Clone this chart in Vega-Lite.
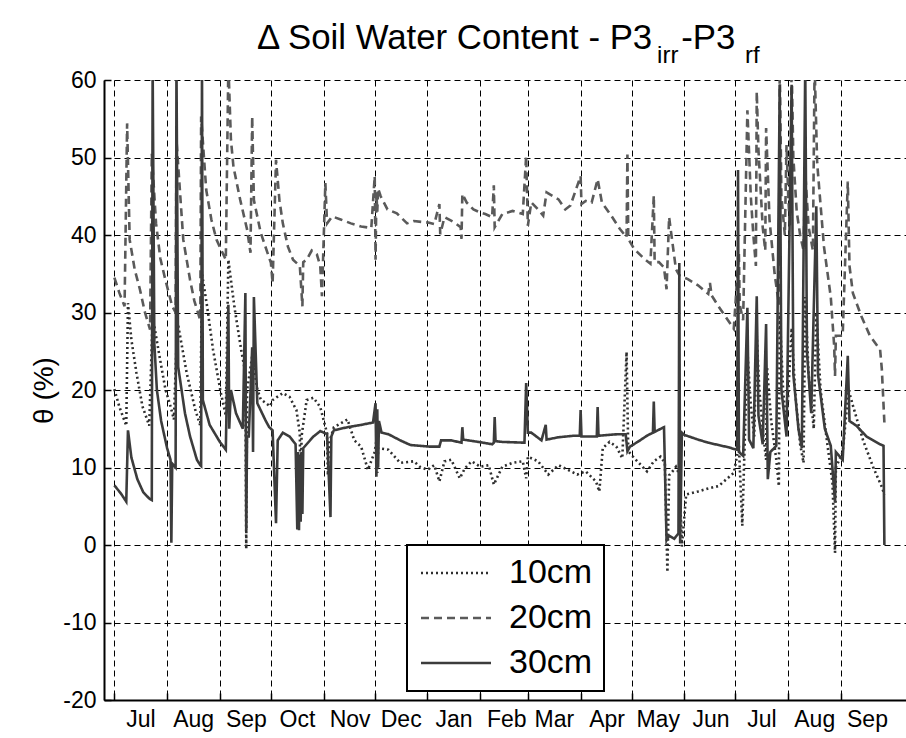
{
"$schema": "https://vega.github.io/schema/vega-lite/v6.json",
"width": 802, "height": 620,
"autosize": {"type": "none"},
"padding": {"left": 104, "top": 80, "right": 0, "bottom": 38},
"background": "white",
"title": {
 "text": "Δ Soil Water Content - P3\u00a0\u00a0\u00a0-P3",
 "subtitle": "\u200b\u00a0\u00a0\u00a0\u00a0\u00a0\u00a0\u00a0\u00a0\u00a0\u00a0\u00a0\u00a0\u00a0\u00a0\u00a0\u00a0\u00a0\u00a0\u00a0\u00a0\u00a0\u00a0\u00a0\u00a0\u00a0\u00a0\u00a0\u00a0\u00a0\u00a0\u00a0\u00a0\u00a0\u00a0\u00a0\u00a0\u00a0\u00a0\u00a0\u00a0\u00a0\u00a0\u00a0\u00a0\u00a0\u00a0\u00a0\u00a0\u00a0\u00a0\u00a0\u00a0\u00a0\u00a0\u00a0\u00a0\u00a0\u00a0\u00a0\u00a0irr\u00a0\u00a0\u00a0\u00a0\u00a0\u00a0\u00a0\u00a0\u00a0\u00a0rf",
 "anchor": "start", "frame": "group", "dx": 153,
 "font": "Liberation Sans", "fontSize": 34.8, "fontWeight": "normal", "color": "black",
 "subtitleFont": "Liberation Sans", "subtitleFontSize": 24, "subtitleColor": "black",
 "subtitlePadding": -13, "offset": 0
},
"data": {"values": [
{"date":"2006-07-01","theta":20.1,"depth":"10cm"},
{"date":"2006-07-04","theta":17.8,"depth":"10cm"},
{"date":"2006-07-08","theta":15.4,"depth":"10cm"},
{"date":"2006-07-09","theta":31.2,"depth":"10cm"},
{"date":"2006-07-11","theta":26.5,"depth":"10cm"},
{"date":"2006-07-14","theta":22.2,"depth":"10cm"},
{"date":"2006-07-17T12:00Z","theta":17.9,"depth":"10cm"},
{"date":"2006-07-21T12:00Z","theta":15.4,"depth":"10cm"},
{"date":"2006-07-23T12:00Z","theta":29.5,"depth":"10cm"},
{"date":"2006-07-27T12:00Z","theta":24.4,"depth":"10cm"},
{"date":"2006-07-31","theta":20.1,"depth":"10cm"},
{"date":"2006-08-03","theta":17.9,"depth":"10cm"},
{"date":"2006-08-05","theta":16.2,"depth":"10cm"},
{"date":"2006-08-07","theta":29,"depth":"10cm"},
{"date":"2006-08-12T12:00Z","theta":22.2,"depth":"10cm"},
{"date":"2006-08-17T12:00Z","theta":17.5,"depth":"10cm"},
{"date":"2006-08-20T12:00Z","theta":15.4,"depth":"10cm"},
{"date":"2006-08-21T12:00Z","theta":35,"depth":"10cm"},
{"date":"2006-08-24T12:00Z","theta":30.8,"depth":"10cm"},
{"date":"2006-08-28","theta":25.2,"depth":"10cm"},
{"date":"2006-09-01T12:00Z","theta":19.7,"depth":"10cm"},
{"date":"2006-09-04T12:00Z","theta":16.7,"depth":"10cm"},
{"date":"2006-09-06","theta":36.8,"depth":"10cm"},
{"date":"2006-09-09T12:00Z","theta":30.8,"depth":"10cm"},
{"date":"2006-09-13T12:00Z","theta":25.2,"depth":"10cm"},
{"date":"2006-09-16","theta":22.2,"depth":"10cm"},
{"date":"2006-09-16T12:00Z","theta":-0.5,"depth":"10cm"},
{"date":"2006-09-17","theta":20,"depth":"10cm"},
{"date":"2006-09-20","theta":24.4,"depth":"10cm"},
{"date":"2006-09-23","theta":20.1,"depth":"10cm"},
{"date":"2006-09-25","theta":18.8,"depth":"10cm"},
{"date":"2006-09-30T12:00Z","theta":17.9,"depth":"10cm"},
{"date":"2006-10-02","theta":18.7,"depth":"10cm"},
{"date":"2006-10-08","theta":19.6,"depth":"10cm"},
{"date":"2006-10-12","theta":19.1,"depth":"10cm"},
{"date":"2006-10-16","theta":17.4,"depth":"10cm"},
{"date":"2006-10-18","theta":14.4,"depth":"10cm"},
{"date":"2006-10-18T12:00Z","theta":3.6,"depth":"10cm"},
{"date":"2006-10-19","theta":14,"depth":"10cm"},
{"date":"2006-10-22","theta":18.7,"depth":"10cm"},
{"date":"2006-10-26","theta":19,"depth":"10cm"},
{"date":"2006-10-30","theta":17.8,"depth":"10cm"},
{"date":"2006-11-03","theta":14.4,"depth":"10cm"},
{"date":"2006-11-03T12:00Z","theta":9,"depth":"10cm"},
{"date":"2006-11-04","theta":13,"depth":"10cm"},
{"date":"2006-11-07","theta":15.2,"depth":"10cm"},
{"date":"2006-11-15","theta":16.2,"depth":"10cm"},
{"date":"2006-11-19","theta":13.5,"depth":"10cm"},
{"date":"2006-11-23","theta":12.7,"depth":"10cm"},
{"date":"2006-11-27","theta":9.7,"depth":"10cm"},
{"date":"2006-12-01","theta":12,"depth":"10cm"},
{"date":"2006-12-02","theta":13.5,"depth":"10cm"},
{"date":"2006-12-02T12:00Z","theta":9.3,"depth":"10cm"},
{"date":"2006-12-03","theta":12.5,"depth":"10cm"},
{"date":"2006-12-09","theta":12.3,"depth":"10cm"},
{"date":"2006-12-16","theta":10.6,"depth":"10cm"},
{"date":"2006-12-24","theta":10.8,"depth":"10cm"},
{"date":"2006-12-27T12:00Z","theta":10.1,"depth":"10cm"},
{"date":"2007-01-01","theta":9.7,"depth":"10cm"},
{"date":"2007-01-05","theta":10.3,"depth":"10cm"},
{"date":"2007-01-08","theta":8.2,"depth":"10cm"},
{"date":"2007-01-11","theta":10.8,"depth":"10cm"},
{"date":"2007-01-15","theta":11,"depth":"10cm"},
{"date":"2007-01-20","theta":8.6,"depth":"10cm"},
{"date":"2007-01-23","theta":9.9,"depth":"10cm"},
{"date":"2007-01-27","theta":10.8,"depth":"10cm"},
{"date":"2007-02-01","theta":10.1,"depth":"10cm"},
{"date":"2007-02-06","theta":10.3,"depth":"10cm"},
{"date":"2007-02-09","theta":7.8,"depth":"10cm"},
{"date":"2007-02-14","theta":10.1,"depth":"10cm"},
{"date":"2007-02-20","theta":10.6,"depth":"10cm"},
{"date":"2007-02-26","theta":10.8,"depth":"10cm"},
{"date":"2007-02-28","theta":8.6,"depth":"10cm"},
{"date":"2007-03-01","theta":11.4,"depth":"10cm"},
{"date":"2007-03-07","theta":10.8,"depth":"10cm"},
{"date":"2007-03-13","theta":9.1,"depth":"10cm"},
{"date":"2007-03-19","theta":10.3,"depth":"10cm"},
{"date":"2007-03-24T12:00Z","theta":9.7,"depth":"10cm"},
{"date":"2007-03-30","theta":9.1,"depth":"10cm"},
{"date":"2007-04-04","theta":9.5,"depth":"10cm"},
{"date":"2007-04-10","theta":8.2,"depth":"10cm"},
{"date":"2007-04-12","theta":6.9,"depth":"10cm"},
{"date":"2007-04-14","theta":12.5,"depth":"10cm"},
{"date":"2007-04-18","theta":13.3,"depth":"10cm"},
{"date":"2007-04-22","theta":12.7,"depth":"10cm"},
{"date":"2007-04-25T12:00Z","theta":11.2,"depth":"10cm"},
{"date":"2007-04-28","theta":24.9,"depth":"10cm"},
{"date":"2007-04-29","theta":12.1,"depth":"10cm"},
{"date":"2007-05-02T12:00Z","theta":11.2,"depth":"10cm"},
{"date":"2007-05-06T12:00Z","theta":10.3,"depth":"10cm"},
{"date":"2007-05-10","theta":9.5,"depth":"10cm"},
{"date":"2007-05-14","theta":10.8,"depth":"10cm"},
{"date":"2007-05-18","theta":11.4,"depth":"10cm"},
{"date":"2007-05-20T12:00Z","theta":10.6,"depth":"10cm"},
{"date":"2007-05-22","theta":-3.5,"depth":"10cm"},
{"date":"2007-05-23","theta":9,"depth":"10cm"},
{"date":"2007-05-25","theta":9.5,"depth":"10cm"},
{"date":"2007-05-27","theta":10.1,"depth":"10cm"},
{"date":"2007-05-29","theta":9.1,"depth":"10cm"},
{"date":"2007-05-30T12:00Z","theta":-0.2,"depth":"10cm"},
{"date":"2007-06-02","theta":6.5,"depth":"10cm"},
{"date":"2007-06-09","theta":6.9,"depth":"10cm"},
{"date":"2007-06-15","theta":7.3,"depth":"10cm"},
{"date":"2007-06-21","theta":7.6,"depth":"10cm"},
{"date":"2007-06-30","theta":9.3,"depth":"10cm"},
{"date":"2007-07-03","theta":12.8,"depth":"10cm"},
{"date":"2007-07-05","theta":2.5,"depth":"10cm"},
{"date":"2007-07-06","theta":10,"depth":"10cm"},
{"date":"2007-07-08","theta":25,"depth":"10cm"},
{"date":"2007-07-10","theta":18,"depth":"10cm"},
{"date":"2007-07-12","theta":14,"depth":"10cm"},
{"date":"2007-07-13T12:00Z","theta":27,"depth":"10cm"},
{"date":"2007-07-15","theta":20,"depth":"10cm"},
{"date":"2007-07-17","theta":15,"depth":"10cm"},
{"date":"2007-07-19","theta":11,"depth":"10cm"},
{"date":"2007-07-19T12:00Z","theta":23,"depth":"10cm"},
{"date":"2007-07-22","theta":16,"depth":"10cm"},
{"date":"2007-07-25","theta":11,"depth":"10cm"},
{"date":"2007-07-26T12:00Z","theta":7.6,"depth":"10cm"},
{"date":"2007-07-27","theta":30,"depth":"10cm"},
{"date":"2007-07-29","theta":20,"depth":"10cm"},
{"date":"2007-07-31","theta":15,"depth":"10cm"},
{"date":"2007-08-03","theta":28,"depth":"10cm"},
{"date":"2007-08-05","theta":19.9,"depth":"10cm"},
{"date":"2007-08-08","theta":13,"depth":"10cm"},
{"date":"2007-08-10","theta":10.6,"depth":"10cm"},
{"date":"2007-08-11","theta":32,"depth":"10cm"},
{"date":"2007-08-13","theta":22,"depth":"10cm"},
{"date":"2007-08-16","theta":15,"depth":"10cm"},
{"date":"2007-08-17T12:00Z","theta":30,"depth":"10cm"},
{"date":"2007-08-20","theta":20,"depth":"10cm"},
{"date":"2007-08-24","theta":13,"depth":"10cm"},
{"date":"2007-08-27","theta":8,"depth":"10cm"},
{"date":"2007-08-28T12:00Z","theta":-1,"depth":"10cm"},
{"date":"2007-08-29","theta":10,"depth":"10cm"},
{"date":"2007-09-02","theta":12,"depth":"10cm"},
{"date":"2007-09-05T12:00Z","theta":20,"depth":"10cm"},
{"date":"2007-09-08","theta":18,"depth":"10cm"},
{"date":"2007-09-14","theta":13.5,"depth":"10cm"},
{"date":"2007-09-20","theta":10,"depth":"10cm"},
{"date":"2007-09-25","theta":7.5,"depth":"10cm"},
{"date":"2007-09-26T12:00Z","theta":6.5,"depth":"10cm"},

{"date":"2006-07-01","theta":34.5,"depth":"20cm"},
{"date":"2006-07-04","theta":32.5,"depth":"20cm"},
{"date":"2006-07-07","theta":30.8,"depth":"20cm"},
{"date":"2006-07-08T12:00Z","theta":54.4,"depth":"20cm"},
{"date":"2006-07-10","theta":39.4,"depth":"20cm"},
{"date":"2006-07-13","theta":35.5,"depth":"20cm"},
{"date":"2006-07-16","theta":33,"depth":"20cm"},
{"date":"2006-07-19","theta":30,"depth":"20cm"},
{"date":"2006-07-22","theta":27.8,"depth":"20cm"},
{"date":"2006-07-23","theta":50.5,"depth":"20cm"},
{"date":"2006-07-25T12:00Z","theta":41.5,"depth":"20cm"},
{"date":"2006-07-28","theta":37,"depth":"20cm"},
{"date":"2006-07-31","theta":34.2,"depth":"20cm"},
{"date":"2006-08-04","theta":30.8,"depth":"20cm"},
{"date":"2006-08-06","theta":30,"depth":"20cm"},
{"date":"2006-08-06T12:00Z","theta":52.3,"depth":"20cm"},
{"date":"2006-08-10T12:00Z","theta":39.4,"depth":"20cm"},
{"date":"2006-08-14T12:00Z","theta":34.2,"depth":"20cm"},
{"date":"2006-08-17","theta":31.5,"depth":"20cm"},
{"date":"2006-08-20T12:00Z","theta":29,"depth":"20cm"},
{"date":"2006-08-21","theta":55.3,"depth":"20cm"},
{"date":"2006-08-24","theta":45.8,"depth":"20cm"},
{"date":"2006-08-27","theta":42,"depth":"20cm"},
{"date":"2006-08-30","theta":39.4,"depth":"20cm"},
{"date":"2006-09-04T12:00Z","theta":36.8,"depth":"20cm"},
{"date":"2006-09-06","theta":62,"depth":"20cm"},
{"date":"2006-09-07T12:00Z","theta":52.3,"depth":"20cm"},
{"date":"2006-09-09","theta":48.8,"depth":"20cm"},
{"date":"2006-09-13","theta":44.5,"depth":"20cm"},
{"date":"2006-09-17","theta":40.7,"depth":"20cm"},
{"date":"2006-09-19","theta":37.7,"depth":"20cm"},
{"date":"2006-09-20","theta":55.3,"depth":"20cm"},
{"date":"2006-09-21","theta":44.5,"depth":"20cm"},
{"date":"2006-09-25","theta":40.3,"depth":"20cm"},
{"date":"2006-09-29","theta":37.7,"depth":"20cm"},
{"date":"2006-10-01","theta":36.4,"depth":"20cm"},
{"date":"2006-10-02","theta":33.8,"depth":"20cm"},
{"date":"2006-10-04","theta":49.7,"depth":"20cm"},
{"date":"2006-10-06","theta":44.5,"depth":"20cm"},
{"date":"2006-10-08","theta":41.5,"depth":"20cm"},
{"date":"2006-10-11","theta":38.5,"depth":"20cm"},
{"date":"2006-10-14","theta":36.8,"depth":"20cm"},
{"date":"2006-10-18","theta":36,"depth":"20cm"},
{"date":"2006-10-19T12:00Z","theta":30.8,"depth":"20cm"},
{"date":"2006-10-20","theta":36.5,"depth":"20cm"},
{"date":"2006-10-22","theta":36.8,"depth":"20cm"},
{"date":"2006-10-25","theta":38,"depth":"20cm"},
{"date":"2006-10-28","theta":37.5,"depth":"20cm"},
{"date":"2006-10-30","theta":36,"depth":"20cm"},
{"date":"2006-10-31","theta":32.1,"depth":"20cm"},
{"date":"2006-11-02","theta":46.7,"depth":"20cm"},
{"date":"2006-11-03","theta":41.5,"depth":"20cm"},
{"date":"2006-11-06","theta":42.4,"depth":"20cm"},
{"date":"2006-11-11","theta":42,"depth":"20cm"},
{"date":"2006-11-17","theta":41.5,"depth":"20cm"},
{"date":"2006-11-23","theta":41.1,"depth":"20cm"},
{"date":"2006-11-29","theta":40.9,"depth":"20cm"},
{"date":"2006-12-01","theta":47.6,"depth":"20cm"},
{"date":"2006-12-01T12:00Z","theta":36.8,"depth":"20cm"},
{"date":"2006-12-02","theta":45.5,"depth":"20cm"},
{"date":"2006-12-02T12:00Z","theta":43,"depth":"20cm"},
{"date":"2006-12-03","theta":46,"depth":"20cm"},
{"date":"2006-12-04T12:00Z","theta":45,"depth":"20cm"},
{"date":"2006-12-08T12:00Z","theta":43.3,"depth":"20cm"},
{"date":"2006-12-14","theta":42.8,"depth":"20cm"},
{"date":"2006-12-20","theta":41.5,"depth":"20cm"},
{"date":"2006-12-24","theta":41.8,"depth":"20cm"},
{"date":"2007-01-01T12:00Z","theta":41.6,"depth":"20cm"},
{"date":"2007-01-05","theta":41.4,"depth":"20cm"},
{"date":"2007-01-08","theta":44,"depth":"20cm"},
{"date":"2007-01-08T12:00Z","theta":40.1,"depth":"20cm"},
{"date":"2007-01-11","theta":42.3,"depth":"20cm"},
{"date":"2007-01-17","theta":41.6,"depth":"20cm"},
{"date":"2007-01-20T12:00Z","theta":41,"depth":"20cm"},
{"date":"2007-01-21","theta":39.5,"depth":"20cm"},
{"date":"2007-01-21T12:00Z","theta":45.3,"depth":"20cm"},
{"date":"2007-01-24","theta":44.2,"depth":"20cm"},
{"date":"2007-01-28","theta":43.3,"depth":"20cm"},
{"date":"2007-02-01","theta":42.9,"depth":"20cm"},
{"date":"2007-02-04","theta":42.7,"depth":"20cm"},
{"date":"2007-02-08","theta":42.3,"depth":"20cm"},
{"date":"2007-02-09","theta":46.4,"depth":"20cm"},
{"date":"2007-02-09T12:00Z","theta":41,"depth":"20cm"},
{"date":"2007-02-14","theta":42.7,"depth":"20cm"},
{"date":"2007-02-20","theta":43.1,"depth":"20cm"},
{"date":"2007-02-26","theta":42.7,"depth":"20cm"},
{"date":"2007-02-28","theta":50.2,"depth":"20cm"},
{"date":"2007-03-01","theta":41.2,"depth":"20cm"},
{"date":"2007-03-03","theta":44.2,"depth":"20cm"},
{"date":"2007-03-07","theta":43.3,"depth":"20cm"},
{"date":"2007-03-10","theta":42.5,"depth":"20cm"},
{"date":"2007-03-12","theta":45.5,"depth":"20cm"},
{"date":"2007-03-19","theta":44.6,"depth":"20cm"},
{"date":"2007-03-23","theta":43.3,"depth":"20cm"},
{"date":"2007-03-26","theta":43.8,"depth":"20cm"},
{"date":"2007-04-01","theta":47.6,"depth":"20cm"},
{"date":"2007-04-01T12:00Z","theta":44,"depth":"20cm"},
{"date":"2007-04-04","theta":44.4,"depth":"20cm"},
{"date":"2007-04-07T12:00Z","theta":44.2,"depth":"20cm"},
{"date":"2007-04-11","theta":47.2,"depth":"20cm"},
{"date":"2007-04-13T12:00Z","theta":44.2,"depth":"20cm"},
{"date":"2007-04-19","theta":42.5,"depth":"20cm"},
{"date":"2007-04-24","theta":40.8,"depth":"20cm"},
{"date":"2007-04-28","theta":39.7,"depth":"20cm"},
{"date":"2007-04-28T12:00Z","theta":50.4,"depth":"20cm"},
{"date":"2007-04-29","theta":39.5,"depth":"20cm"},
{"date":"2007-05-02T12:00Z","theta":38.2,"depth":"20cm"},
{"date":"2007-05-08T12:00Z","theta":36.9,"depth":"20cm"},
{"date":"2007-05-12","theta":36.3,"depth":"20cm"},
{"date":"2007-05-14","theta":45.1,"depth":"20cm"},
{"date":"2007-05-14T12:00Z","theta":36.5,"depth":"20cm"},
{"date":"2007-05-17","theta":36.5,"depth":"20cm"},
{"date":"2007-05-20","theta":35.8,"depth":"20cm"},
{"date":"2007-05-21T12:00Z","theta":33,"depth":"20cm"},
{"date":"2007-05-23","theta":42.3,"depth":"20cm"},
{"date":"2007-05-27","theta":35.6,"depth":"20cm"},
{"date":"2007-05-29","theta":34.8,"depth":"20cm"},
{"date":"2007-06-03","theta":34.3,"depth":"20cm"},
{"date":"2007-06-09","theta":33.5,"depth":"20cm"},
{"date":"2007-06-15","theta":32.4,"depth":"20cm"},
{"date":"2007-06-16","theta":33.8,"depth":"20cm"},
{"date":"2007-06-17","theta":32.2,"depth":"20cm"},
{"date":"2007-06-21","theta":30.8,"depth":"20cm"},
{"date":"2007-06-30","theta":27.9,"depth":"20cm"},
{"date":"2007-07-03","theta":37.7,"depth":"20cm"},
{"date":"2007-07-03T12:00Z","theta":31,"depth":"20cm"},
{"date":"2007-07-05T12:00Z","theta":29,"depth":"20cm"},
{"date":"2007-07-08","theta":56.1,"depth":"20cm"},
{"date":"2007-07-10","theta":45,"depth":"20cm"},
{"date":"2007-07-11T12:00Z","theta":40,"depth":"20cm"},
{"date":"2007-07-13","theta":36,"depth":"20cm"},
{"date":"2007-07-13T12:00Z","theta":58.5,"depth":"20cm"},
{"date":"2007-07-14T12:00Z","theta":51,"depth":"20cm"},
{"date":"2007-07-17","theta":41,"depth":"20cm"},
{"date":"2007-07-18T12:00Z","theta":38,"depth":"20cm"},
{"date":"2007-07-19","theta":53.8,"depth":"20cm"},
{"date":"2007-07-21","theta":42,"depth":"20cm"},
{"date":"2007-07-24","theta":35,"depth":"20cm"},
{"date":"2007-07-26T12:00Z","theta":31,"depth":"20cm"},
{"date":"2007-07-27","theta":62,"depth":"20cm"},
{"date":"2007-07-28","theta":45,"depth":"20cm"},
{"date":"2007-07-30","theta":40,"depth":"20cm"},
{"date":"2007-07-31","theta":51.6,"depth":"20cm"},
{"date":"2007-08-01","theta":45,"depth":"20cm"},
{"date":"2007-08-02","theta":41,"depth":"20cm"},
{"date":"2007-08-03","theta":62,"depth":"20cm"},
{"date":"2007-08-04","theta":50,"depth":"20cm"},
{"date":"2007-08-06","theta":43,"depth":"20cm"},
{"date":"2007-08-08","theta":40,"depth":"20cm"},
{"date":"2007-08-10","theta":38,"depth":"20cm"},
{"date":"2007-08-11","theta":48,"depth":"20cm"},
{"date":"2007-08-13","theta":41,"depth":"20cm"},
{"date":"2007-08-15T12:00Z","theta":38,"depth":"20cm"},
{"date":"2007-08-16T12:00Z","theta":62,"depth":"20cm"},
{"date":"2007-08-18","theta":49.3,"depth":"20cm"},
{"date":"2007-08-22","theta":38.5,"depth":"20cm"},
{"date":"2007-08-26","theta":32,"depth":"20cm"},
{"date":"2007-08-28","theta":25.7,"depth":"20cm"},
{"date":"2007-08-28T12:00Z","theta":21.8,"depth":"20cm"},
{"date":"2007-08-29","theta":27,"depth":"20cm"},
{"date":"2007-09-02","theta":27,"depth":"20cm"},
{"date":"2007-09-05","theta":46.9,"depth":"20cm"},
{"date":"2007-09-06","theta":36,"depth":"20cm"},
{"date":"2007-09-08","theta":32.5,"depth":"20cm"},
{"date":"2007-09-13","theta":29.5,"depth":"20cm"},
{"date":"2007-09-18","theta":27,"depth":"20cm"},
{"date":"2007-09-24","theta":25.2,"depth":"20cm"},
{"date":"2007-09-25","theta":22.7,"depth":"20cm"},
{"date":"2007-09-26T12:00Z","theta":15.8,"depth":"20cm"},

{"date":"2006-07-01","theta":7.7,"depth":"30cm"},
{"date":"2006-07-05","theta":6.6,"depth":"30cm"},
{"date":"2006-07-08","theta":5.6,"depth":"30cm"},
{"date":"2006-07-09","theta":14.8,"depth":"30cm"},
{"date":"2006-07-11","theta":11.3,"depth":"30cm"},
{"date":"2006-07-14T12:00Z","theta":8.5,"depth":"30cm"},
{"date":"2006-07-18","theta":6.8,"depth":"30cm"},
{"date":"2006-07-21T12:00Z","theta":6,"depth":"30cm"},
{"date":"2006-07-23","theta":5.8,"depth":"30cm"},
{"date":"2006-07-23T12:00Z","theta":62,"depth":"30cm"},
{"date":"2006-07-24T12:00Z","theta":26,"depth":"30cm"},
{"date":"2006-07-26","theta":20,"depth":"30cm"},
{"date":"2006-07-28T12:00Z","theta":16,"depth":"30cm"},
{"date":"2006-08-01","theta":12.5,"depth":"30cm"},
{"date":"2006-08-03","theta":11,"depth":"30cm"},
{"date":"2006-08-03T12:00Z","theta":0.3,"depth":"30cm"},
{"date":"2006-08-04","theta":10.5,"depth":"30cm"},
{"date":"2006-08-06","theta":10,"depth":"30cm"},
{"date":"2006-08-06T12:00Z","theta":62,"depth":"30cm"},
{"date":"2006-08-07T12:00Z","theta":23,"depth":"30cm"},
{"date":"2006-08-11T12:00Z","theta":17,"depth":"30cm"},
{"date":"2006-08-14T12:00Z","theta":14,"depth":"30cm"},
{"date":"2006-08-18T12:00Z","theta":11,"depth":"30cm"},
{"date":"2006-08-20T12:00Z","theta":10.3,"depth":"30cm"},
{"date":"2006-08-21","theta":10.2,"depth":"30cm"},
{"date":"2006-08-21T12:00Z","theta":62,"depth":"30cm"},
{"date":"2006-08-22","theta":18.7,"depth":"30cm"},
{"date":"2006-08-26","theta":15.5,"depth":"30cm"},
{"date":"2006-09-01","theta":13.3,"depth":"30cm"},
{"date":"2006-09-04T12:00Z","theta":12.3,"depth":"30cm"},
{"date":"2006-09-06","theta":31,"depth":"30cm"},
{"date":"2006-09-06T12:00Z","theta":15,"depth":"30cm"},
{"date":"2006-09-07T12:00Z","theta":20,"depth":"30cm"},
{"date":"2006-09-10T12:00Z","theta":17,"depth":"30cm"},
{"date":"2006-09-14T12:00Z","theta":15,"depth":"30cm"},
{"date":"2006-09-16","theta":32.5,"depth":"30cm"},
{"date":"2006-09-16T12:00Z","theta":1.9,"depth":"30cm"},
{"date":"2006-09-17","theta":14,"depth":"30cm"},
{"date":"2006-09-18","theta":14,"depth":"30cm"},
{"date":"2006-09-20","theta":25.5,"depth":"30cm"},
{"date":"2006-09-20T12:00Z","theta":12,"depth":"30cm"},
{"date":"2006-09-21","theta":32,"depth":"30cm"},
{"date":"2006-09-23","theta":18.3,"depth":"30cm"},
{"date":"2006-09-28","theta":16,"depth":"30cm"},
{"date":"2006-09-30","theta":15.2,"depth":"30cm"},
{"date":"2006-10-02","theta":14.8,"depth":"30cm"},
{"date":"2006-10-04","theta":2.8,"depth":"30cm"},
{"date":"2006-10-05","theta":13.5,"depth":"30cm"},
{"date":"2006-10-08","theta":14.5,"depth":"30cm"},
{"date":"2006-10-12","theta":14,"depth":"30cm"},
{"date":"2006-10-15T12:00Z","theta":13,"depth":"30cm"},
{"date":"2006-10-16T12:00Z","theta":2,"depth":"30cm"},
{"date":"2006-10-17","theta":12,"depth":"30cm"},
{"date":"2006-10-17T12:00Z","theta":1.9,"depth":"30cm"},
{"date":"2006-10-18","theta":11.5,"depth":"30cm"},
{"date":"2006-10-18T12:00Z","theta":3,"depth":"30cm"},
{"date":"2006-10-19","theta":12,"depth":"30cm"},
{"date":"2006-10-19T12:00Z","theta":4,"depth":"30cm"},
{"date":"2006-10-20","theta":12.5,"depth":"30cm"},
{"date":"2006-10-22","theta":13,"depth":"30cm"},
{"date":"2006-10-26","theta":14,"depth":"30cm"},
{"date":"2006-10-30","theta":14.7,"depth":"30cm"},
{"date":"2006-11-03","theta":14.3,"depth":"30cm"},
{"date":"2006-11-05","theta":3.6,"depth":"30cm"},
{"date":"2006-11-05T12:00Z","theta":14,"depth":"30cm"},
{"date":"2006-11-07","theta":14.8,"depth":"30cm"},
{"date":"2006-11-15","theta":15.2,"depth":"30cm"},
{"date":"2006-11-23","theta":15.5,"depth":"30cm"},
{"date":"2006-11-30","theta":15.8,"depth":"30cm"},
{"date":"2006-12-01T12:00Z","theta":18.3,"depth":"30cm"},
{"date":"2006-12-02","theta":8.8,"depth":"30cm"},
{"date":"2006-12-02T12:00Z","theta":17.5,"depth":"30cm"},
{"date":"2006-12-03","theta":10,"depth":"30cm"},
{"date":"2006-12-03T12:00Z","theta":16,"depth":"30cm"},
{"date":"2006-12-05","theta":14.5,"depth":"30cm"},
{"date":"2006-12-09","theta":14.3,"depth":"30cm"},
{"date":"2006-12-16","theta":13.5,"depth":"30cm"},
{"date":"2006-12-22","theta":12.9,"depth":"30cm"},
{"date":"2007-01-02","theta":12.7,"depth":"30cm"},
{"date":"2007-01-08","theta":12.7,"depth":"30cm"},
{"date":"2007-01-09","theta":13.5,"depth":"30cm"},
{"date":"2007-01-15","theta":13.5,"depth":"30cm"},
{"date":"2007-01-21","theta":13.2,"depth":"30cm"},
{"date":"2007-01-21T12:00Z","theta":15.2,"depth":"30cm"},
{"date":"2007-01-22","theta":13.6,"depth":"30cm"},
{"date":"2007-01-31","theta":13.3,"depth":"30cm"},
{"date":"2007-02-08","theta":13,"depth":"30cm"},
{"date":"2007-02-09","theta":13.2,"depth":"30cm"},
{"date":"2007-02-09T12:00Z","theta":16.5,"depth":"30cm"},
{"date":"2007-02-10","theta":13.4,"depth":"30cm"},
{"date":"2007-02-14","theta":13.3,"depth":"30cm"},
{"date":"2007-02-27","theta":13.2,"depth":"30cm"},
{"date":"2007-02-28","theta":20.9,"depth":"30cm"},
{"date":"2007-03-01","theta":14.5,"depth":"30cm"},
{"date":"2007-03-03","theta":14.5,"depth":"30cm"},
{"date":"2007-03-09","theta":13.5,"depth":"30cm"},
{"date":"2007-03-11T12:00Z","theta":15.5,"depth":"30cm"},
{"date":"2007-03-12","theta":13.6,"depth":"30cm"},
{"date":"2007-03-19","theta":13.9,"depth":"30cm"},
{"date":"2007-03-28","theta":14.1,"depth":"30cm"},
{"date":"2007-03-31T12:00Z","theta":14.1,"depth":"30cm"},
{"date":"2007-04-01","theta":17.4,"depth":"30cm"},
{"date":"2007-04-01T12:00Z","theta":14,"depth":"30cm"},
{"date":"2007-04-10T12:00Z","theta":14,"depth":"30cm"},
{"date":"2007-04-11","theta":17.8,"depth":"30cm"},
{"date":"2007-04-11T12:00Z","theta":14.1,"depth":"30cm"},
{"date":"2007-04-23","theta":14.3,"depth":"30cm"},
{"date":"2007-04-27T12:00Z","theta":14.3,"depth":"30cm"},
{"date":"2007-04-28T12:00Z","theta":12.1,"depth":"30cm"},
{"date":"2007-04-30","theta":12.7,"depth":"30cm"},
{"date":"2007-05-04T12:00Z","theta":13.3,"depth":"30cm"},
{"date":"2007-05-10","theta":14.1,"depth":"30cm"},
{"date":"2007-05-13T12:00Z","theta":14.5,"depth":"30cm"},
{"date":"2007-05-14","theta":18.5,"depth":"30cm"},
{"date":"2007-05-14T12:00Z","theta":14.6,"depth":"30cm"},
{"date":"2007-05-20","theta":15.2,"depth":"30cm"},
{"date":"2007-05-21T12:00Z","theta":0.6,"depth":"30cm"},
{"date":"2007-05-23","theta":1.2,"depth":"30cm"},
{"date":"2007-05-26","theta":0.8,"depth":"30cm"},
{"date":"2007-05-28T12:00Z","theta":1.5,"depth":"30cm"},
{"date":"2007-05-29","theta":36.4,"depth":"30cm"},
{"date":"2007-05-29T12:00Z","theta":0.2,"depth":"30cm"},
{"date":"2007-05-30T12:00Z","theta":14.5,"depth":"30cm"},
{"date":"2007-06-01","theta":14.2,"depth":"30cm"},
{"date":"2007-06-09","theta":13.6,"depth":"30cm"},
{"date":"2007-06-15","theta":13.2,"depth":"30cm"},
{"date":"2007-06-27","theta":12.6,"depth":"30cm"},
{"date":"2007-06-30","theta":12.4,"depth":"30cm"},
{"date":"2007-07-02","theta":12.3,"depth":"30cm"},
{"date":"2007-07-02T12:00Z","theta":48.4,"depth":"30cm"},
{"date":"2007-07-03","theta":12,"depth":"30cm"},
{"date":"2007-07-05T12:00Z","theta":11.5,"depth":"30cm"},
{"date":"2007-07-08","theta":30.6,"depth":"30cm"},
{"date":"2007-07-09","theta":13.6,"depth":"30cm"},
{"date":"2007-07-11T12:00Z","theta":12.5,"depth":"30cm"},
{"date":"2007-07-13T12:00Z","theta":32.1,"depth":"30cm"},
{"date":"2007-07-14T12:00Z","theta":16.7,"depth":"30cm"},
{"date":"2007-07-17","theta":13,"depth":"30cm"},
{"date":"2007-07-19","theta":28.5,"depth":"30cm"},
{"date":"2007-07-20","theta":8.5,"depth":"30cm"},
{"date":"2007-07-21T12:00Z","theta":12,"depth":"30cm"},
{"date":"2007-07-25","theta":12.8,"depth":"30cm"},
{"date":"2007-07-27","theta":59.4,"depth":"30cm"},
{"date":"2007-07-28","theta":20,"depth":"30cm"},
{"date":"2007-07-31","theta":14,"depth":"30cm"},
{"date":"2007-08-03","theta":59.4,"depth":"30cm"},
{"date":"2007-08-04","theta":22,"depth":"30cm"},
{"date":"2007-08-07","theta":15,"depth":"30cm"},
{"date":"2007-08-09","theta":12.5,"depth":"30cm"},
{"date":"2007-08-11","theta":62,"depth":"30cm"},
{"date":"2007-08-12","theta":25,"depth":"30cm"},
{"date":"2007-08-14T12:00Z","theta":17,"depth":"30cm"},
{"date":"2007-08-17T12:00Z","theta":43.7,"depth":"30cm"},
{"date":"2007-08-18T12:00Z","theta":22,"depth":"30cm"},
{"date":"2007-08-22T12:00Z","theta":15,"depth":"30cm"},
{"date":"2007-08-26","theta":12.8,"depth":"30cm"},
{"date":"2007-08-28T12:00Z","theta":5.5,"depth":"30cm"},
{"date":"2007-08-29","theta":12,"depth":"30cm"},
{"date":"2007-09-02","theta":11,"depth":"30cm"},
{"date":"2007-09-05","theta":24.4,"depth":"30cm"},
{"date":"2007-09-06","theta":16,"depth":"30cm"},
{"date":"2007-09-10","theta":15.4,"depth":"30cm"},
{"date":"2007-09-16","theta":14,"depth":"30cm"},
{"date":"2007-09-24","theta":13,"depth":"30cm"},
{"date":"2007-09-26","theta":12.8,"depth":"30cm"},
{"date":"2007-09-26T12:00Z","theta":0,"depth":"30cm"}
]},
"mark": {"type": "line", "clip": true, "strokeWidth": 2.6},
"encoding": {
 "x": {"field": "date", "type": "temporal",
  "scale": {"type": "utc", "domain": [{"year": 2006, "month": 6, "date": 24, "hours": 22, "utc": true}, {"year": 2007, "month": 10, "date": 9, "hours": 5, "utc": true}]},
  "axis": {"title": null, "format": "%b",
   "values": [{"year":2006,"month":7,"date":1,"utc":true},{"year":2006,"month":8,"date":1,"utc":true},{"year":2006,"month":9,"date":1,"utc":true},{"year":2006,"month":10,"date":1,"utc":true},{"year":2006,"month":11,"date":1,"utc":true},{"year":2006,"month":12,"date":1,"utc":true},{"year":2007,"month":1,"date":1,"utc":true},{"year":2007,"month":2,"date":1,"utc":true},{"year":2007,"month":3,"date":1,"utc":true},{"year":2007,"month":4,"date":1,"utc":true},{"year":2007,"month":5,"date":1,"utc":true},{"year":2007,"month":6,"date":1,"utc":true},{"year":2007,"month":7,"date":1,"utc":true},{"year":2007,"month":8,"date":1,"utc":true},{"year":2007,"month":9,"date":1,"utc":true}],
   "labelOffset": 26, "labelFontSize": 23, "labelColor": "black", "labelPadding": 15,
   "labelFlush": false, "labelOverlap": false, "labelBound": false,
   "tickSize": -7, "tickColor": "black", "tickWidth": 1.5,
   "domainColor": "black", "domainWidth": 2,
   "grid": true, "gridColor": "black", "gridDash": [6, 4], "gridWidth": 1, "gridOpacity": 1}
 },
 "y": {"field": "theta", "type": "quantitative",
  "scale": {"domain": [-20, 60], "nice": false, "zero": false},
  "axis": {"title": "θ (%)", "titleFontSize": 28, "titleFontWeight": "normal", "titleColor": "black", "titlePadding": 4,
   "values": [-20, -10, 0, 10, 20, 30, 40, 50, 60], "labelExpr": "'' + datum.value",
   "labelFontSize": 23, "labelColor": "black", "labelPadding": 15,
   "tickSize": -7, "tickColor": "black", "tickWidth": 1.5,
   "domainColor": "black", "domainWidth": 2,
   "grid": true, "gridColor": "black", "gridDash": [6, 4], "gridWidth": 1, "gridOpacity": 1}
 },
 "color": {"field": "depth", "type": "nominal",
  "scale": {"domain": ["10cm", "20cm", "30cm"], "range": ["#2e2e2e", "#5a5a5a", "#3c3c3c"]},
  "legend": {"title": null, "orient": "none", "legendX": 303, "legendY": 465, "fillColor": "white", "strokeColor": "black", "padding": 11, "labelFontSize": 34, "labelColor": "black", "symbolType": "M-1,0H4", "symbolSize": 784, "symbolStrokeWidth": 2.6, "rowPadding": 11, "labelOffset": 57}
 },
 "strokeDash": {"field": "depth", "type": "nominal",
  "scale": {"domain": ["10cm", "20cm", "30cm"], "range": [[2, 3], [8, 5], [1, 0]]},
  "legend": {"title": null, "orient": "none", "legendX": 303, "legendY": 465, "fillColor": "white", "strokeColor": "black", "padding": 11, "labelFontSize": 34, "labelColor": "black", "symbolType": "M-1,0H4", "symbolSize": 784, "symbolStrokeWidth": 2.6, "rowPadding": 11, "labelOffset": 57}
 }
},
"config": {"font": "Liberation Sans", "view": {"stroke": null}, "legend": {"strokeWidth": 2}}
}
